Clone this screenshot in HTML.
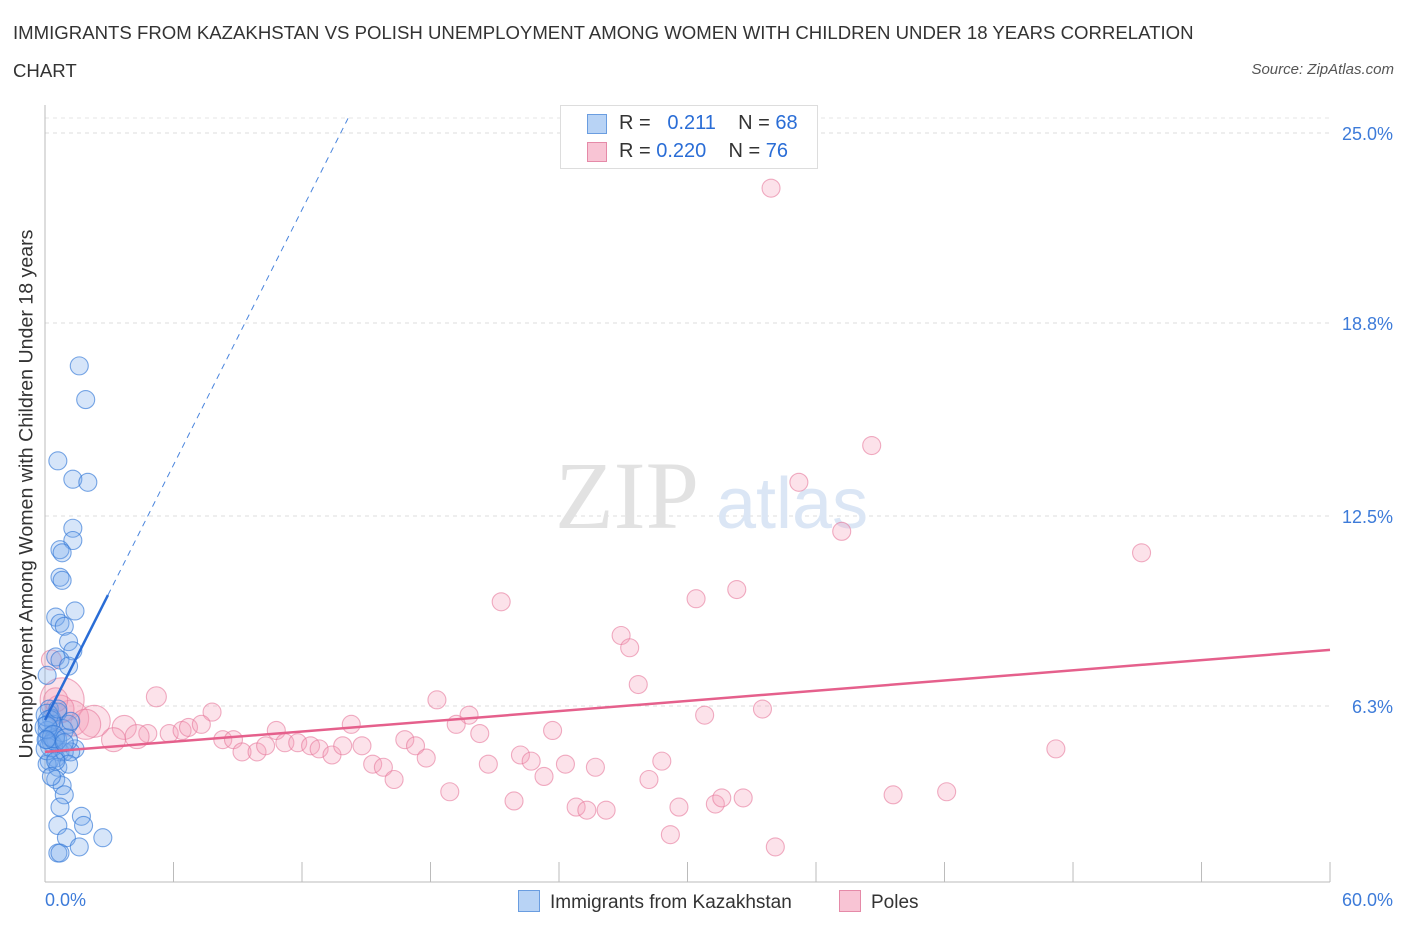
<!DOCTYPE html>
<html><head><meta charset="utf-8"><style>
body{margin:0;background:#fff;font-family:"Liberation Sans",sans-serif}
</style></head><body>
<svg id="c" width="1406" height="930" style="display:block"></svg>
<script>
const blueX=[1.6,1.9,0.6,1.3,2.0,1.3,1.3,0.7,0.8,0.7,0.8,1.4,0.5,0.7,0.9,1.1,1.3,0.5,0.7,1.1,0.1,0.2,0.6,0.3,0.1,0.4,0.1,0.2,0.1,0.3,0.5,1.1,1.4,0.7,0.5,0.9,1.2,0.2,0.1,0.6,1.1,0.5,0.8,0.9,0.7,1.7,0.6,1.8,1.0,2.7,1.6,0.6,0.7,0.3,0.1,0.5,0.8,0.1,0.2,0.05,0.4,1.0,0.5,0.3,0.9,1.2,0.6,0.05];
const blueY=[17.4,16.3,14.3,13.7,13.6,12.1,11.7,11.4,11.3,10.5,10.4,9.4,9.2,9.0,8.9,8.4,8.1,7.9,7.8,7.6,7.3,6.2,6.1,5.9,5.7,5.7,5.5,5.3,5.2,5.1,5.2,5.7,4.9,4.8,4.6,4.8,4.8,4.5,4.4,4.3,4.4,3.9,3.7,3.4,3.0,2.7,2.4,2.4,2.0,2.0,1.7,1.5,1.5,5.0,4.9,5.2,5.5,6.0,5.8,5.6,5.3,5.2,4.5,4.0,5.1,5.8,6.2,5.2];
const blueR=[9,9,9,9,9,9,9,9,9,9,9,9,9,9,9,9,9,9,9,9,9,9,9,9,9,9,9,9,9,9,9,9,9,9,9,9,9,9,9,9,9,9,9,9,9,9,9,9,9,9,9,9,9,11,11,11,11,11,11,11,11,11,9,9,9,9,9,9];
const pinkX=[33.9,38.6,35.2,37.2,51.2,21.3,32.3,30.4,26.9,27.3,27.7,18.3,5.2,7.8,14.3,19.8,19.2,20.3,23.7,30.8,33.5,47.2,10.8,3.7,3.2,4.8,4.3,5.8,6.4,6.7,7.3,8.3,8.8,9.2,9.9,10.3,11.2,11.8,12.4,12.8,13.4,13.9,14.8,15.3,15.8,16.3,16.8,17.3,17.8,20.7,22.2,22.7,23.3,24.3,25.7,28.8,18.9,21.9,24.8,25.3,26.2,28.2,29.6,29.2,31.3,31.6,32.6,34.1,39.6,42.1,0.8,1.2,2.3,1.9,0.7,0.5,0.3];
const pinkY=[23.2,14.8,13.6,12.0,11.3,9.7,10.1,9.8,8.6,8.2,7.0,6.5,6.6,6.1,5.7,6.0,5.7,5.4,5.5,6.0,6.2,4.9,5.5,5.6,5.2,5.4,5.3,5.4,5.5,5.6,5.7,5.2,5.2,4.8,4.8,5.0,5.1,5.1,5.0,4.9,4.7,5.0,5.0,4.4,4.3,3.9,5.2,5.0,4.6,4.4,4.7,4.5,4.0,4.4,4.3,4.5,3.5,3.2,3.0,2.9,2.9,3.9,3.0,2.1,3.1,3.3,3.3,1.7,3.4,3.5,6.5,5.9,5.8,5.7,6.2,6.5,7.8];
const pinkR=[9,9,9,9,9,9,9,9,9,9,9,9,10,9,9,9,9,9,9,9,9,9,9,12,12,9,12,9,9,9,9,9,9,9,9,9,9,9,9,9,9,9,9,9,9,9,9,9,9,9,9,9,9,9,9,9,9,9,9,9,9,9,9,9,9,9,9,9,9,9,22,18,16,15,14,12,10];
const yTicks=[25.0,18.8,12.5,6.3];
const yTickLabels=["25.0%","18.8%","12.5%","6.3%"];
const blueTrend=[0,5.84,2.94,9.92,14.15,25.48];
const pinkTrend=[0,4.80,60,8.13];
const X=v=>45+v*21.417, Y=v=>899-v*30.64;
const s=document.getElementById('c'),NS='http://www.w3.org/2000/svg';
function add(tag,at,txt){const e=document.createElementNS(NS,tag);for(const k in at)e.setAttribute(k,at[k]);if(txt!=null)e.textContent=txt;s.appendChild(e);return e;}
let e;
yTicks.forEach((t,i)=>{e=add('line',{x1:45,x2:1330,y1:Y(t),y2:Y(t),stroke:'#ddd','stroke-dasharray':'4,4'});

e=add('text',{x:1393,y:Y(t)+7,'text-anchor':'end','font-size':18,fill:'#3d7bd9'},yTickLabels[i]);
});
e=add('line',{x1:45,x2:1330,y1:118,y2:118,stroke:'#e6e6e6','stroke-dasharray':'4,4'});
e=add('text',{x:555,y:528,'font-size':96,fill:'#e2e2e2','font-family':'Liberation Serif,serif'},'ZIP');
e=add('text',{x:716,y:528,'font-size':72,fill:'#dbe6f5'},'atlas');
e=add('line',{x1:45,x2:45,y1:105,y2:882,stroke:'#bbb'});
e=add('line',{x1:45,x2:1330,y1:882,y2:882,stroke:'#bbb'});
for(let i=1;i<=10;i++){e=add('line',{x1:X(i*6),x2:X(i*6),y1:862,y2:882,stroke:'#bbb'});}
pinkX.forEach((v,i)=>{e=add('circle',{cx:X(v),cy:Y(pinkY[i]),r:pinkR[i],fill:'rgba(244,160,185,0.3)',stroke:'rgba(230,120,155,0.6)','stroke-width':1.1});
});
blueX.forEach((v,i)=>{e=add('circle',{cx:X(v),cy:Y(blueY[i]),r:blueR[i],fill:'rgba(120,170,235,0.3)',stroke:'rgba(50,120,215,0.65)','stroke-width':1.1});
});
e=add('line',{x1:X(pinkTrend[0]),y1:Y(pinkTrend[1]),x2:X(pinkTrend[2]),y2:Y(pinkTrend[3]),stroke:'#e5608c','stroke-width':2.5});
e=add('line',{x1:X(blueTrend[0]),y1:Y(blueTrend[1]),x2:X(blueTrend[2]),y2:Y(blueTrend[3]),stroke:'#2a6dd6','stroke-width':2.5});
e=add('line',{x1:X(blueTrend[2]),y1:Y(blueTrend[3]),x2:X(blueTrend[4]),y2:Y(blueTrend[5]),stroke:'#4a85dd','stroke-width':1,'stroke-dasharray':'6,5'});
</script>
<div style="position:absolute;left:13px;top:14px;font-size:18.6px;color:#333;line-height:38px;width:1220px">IMMIGRANTS FROM KAZAKHSTAN VS POLISH UNEMPLOYMENT AMONG WOMEN WITH CHILDREN UNDER 18 YEARS CORRELATION CHART</div>
<div style="position:absolute;right:12px;top:61px;font-size:15px;color:#555;font-style:italic">Source: ZipAtlas.com</div>
<div style="position:absolute;left:27px;top:494px;transform:translate(-50%,-50%) rotate(-90deg);white-space:nowrap;font-size:19.6px;color:#333">Unemployment Among Women with Children Under 18 years</div>
<div style="position:absolute;left:45px;top:890px;font-size:18px;color:#3d7bd9">0.0%</div>
<div style="position:absolute;right:13px;top:890px;font-size:18px;color:#3d7bd9">60.0%</div>
<div style="position:absolute;left:560px;top:105px;width:256px;height:62px;border:1px solid #ddd;background:#fff;font-size:20px;color:#333">
<div style="position:absolute;left:26px;top:8px;width:18px;height:18px;background:#b8d3f5;border:1px solid #6a9de0"></div>
<div style="position:absolute;left:58px;top:6px">R = &nbsp;<span style="color:#2a6dd6">&nbsp;0.211</span>&nbsp;&nbsp;&nbsp; N = <span style="color:#2a6dd6">68</span></div>
<div style="position:absolute;left:26px;top:36px;width:18px;height:18px;background:#f8c4d4;border:1px solid #e58aa8"></div>
<div style="position:absolute;left:58px;top:34px">R = <span style="color:#2a6dd6">0.220</span>&nbsp;&nbsp;&nbsp; N = <span style="color:#2a6dd6">76</span></div>
</div>
<div style="position:absolute;left:518px;top:890px;font-size:19px;color:#333"><span style="display:inline-block;width:20px;height:20px;background:#b8d3f5;border:1px solid #6a9de0;vertical-align:-4px;margin-right:10px"></span>Immigrants from Kazakhstan</div>
<div style="position:absolute;left:839px;top:890px;font-size:19px;color:#333"><span style="display:inline-block;width:20px;height:20px;background:#f8c4d4;border:1px solid #e58aa8;vertical-align:-4px;margin-right:10px"></span>Poles</div>
</body></html>
